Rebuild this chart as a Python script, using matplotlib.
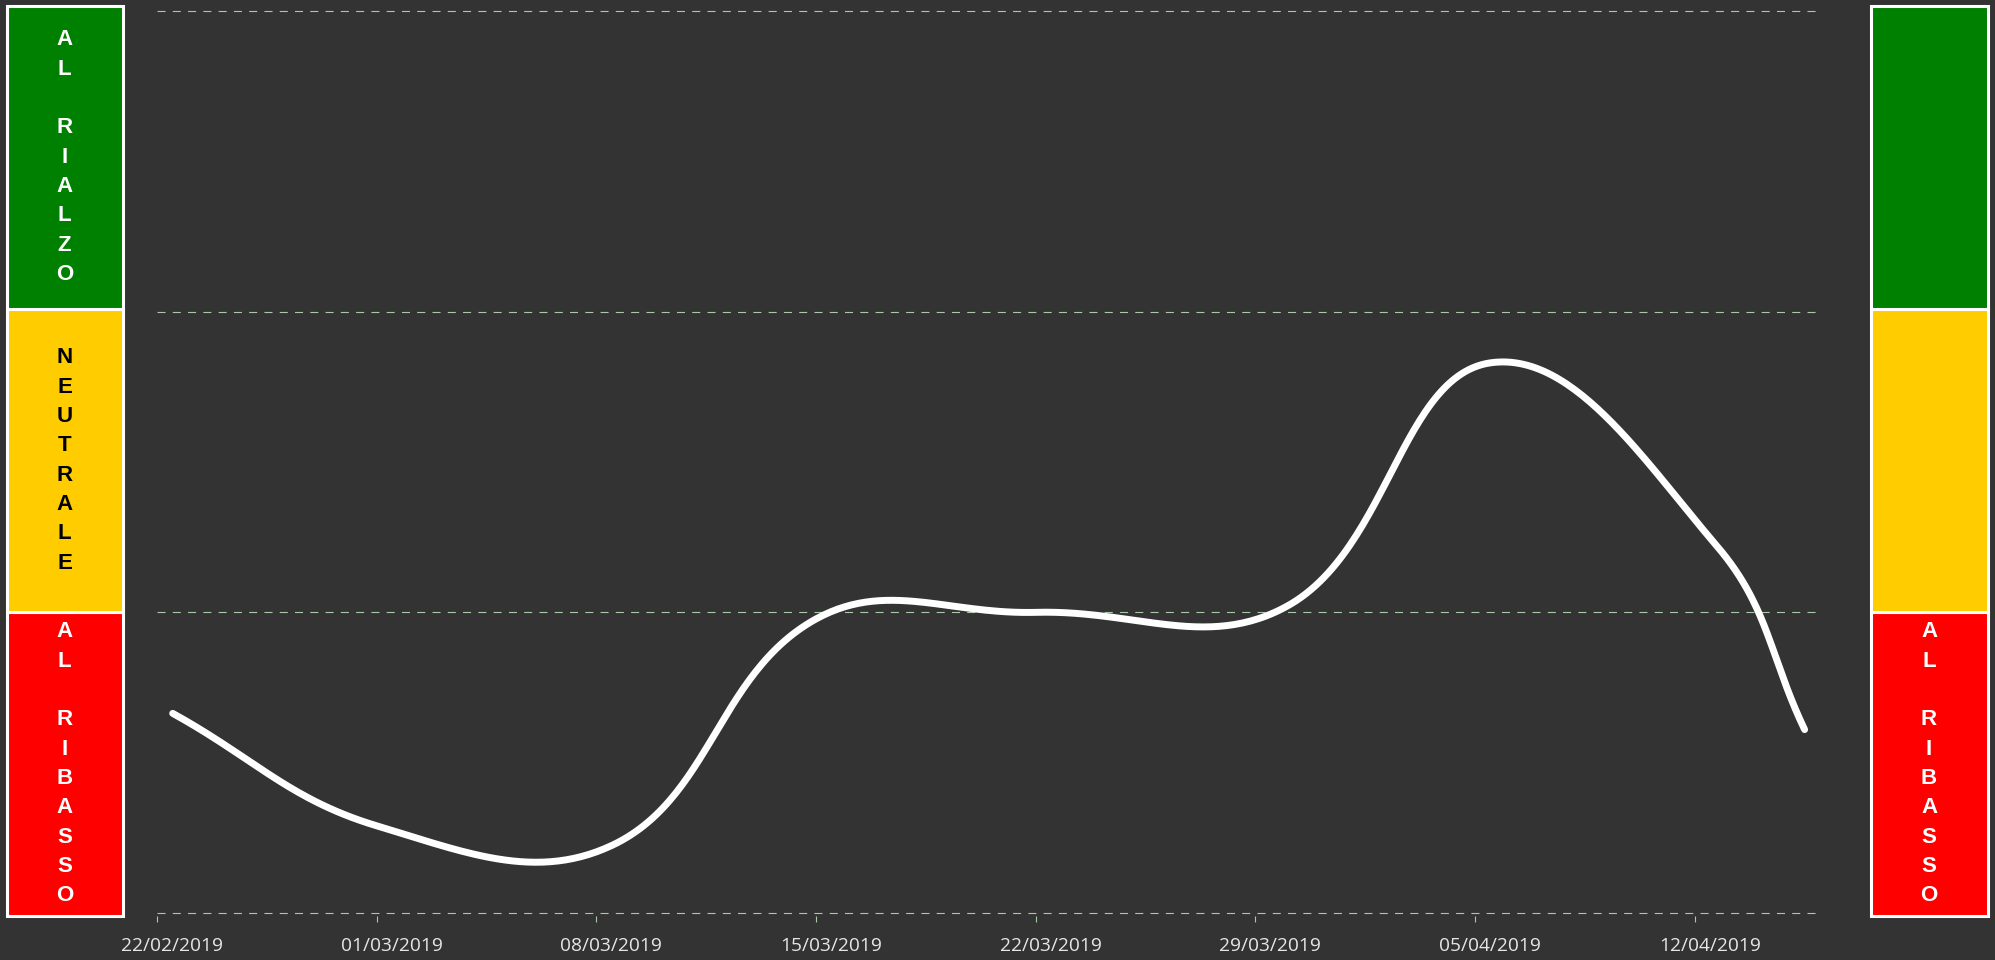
import numpy as np
import pandas as pd
import matplotlib
matplotlib.use('Agg')
import matplotlib.pyplot as plt
import matplotlib.dates as mdates
from matplotlib.transforms import ScaledTranslation

plt.rcParams['lines.scale_dashes'] = False

# data (value scale: 0-1 ribasso, 1-2 neutrale, 2-3 rialzo)
dates = ['2019-02-22 12:00', '2019-03-01 00:00', '2019-03-08 12:00', '2019-03-15 00:00',
         '2019-03-22 00:00', '2019-03-30 00:00', '2019-04-05 12:00', '2019-04-12 17:00',
         '2019-04-15 12:00']
values = [0.664, 0.29, 0.225, 0.978, 1.0, 1.02, 1.83, 1.22, 0.61]

zone_colors = ['#ff0000', '#ffcc00', '#008000']
zone_text_colors = ['white', 'black', 'white']
left_labels = ['AL RIBASSO', 'NEUTRALE', 'AL RIALZO']
right_labels = ['AL RIBASSO', '', '']

tick_dates = pd.date_range('2019-02-22', '2019-04-12', freq='7D')
x_start = pd.Timestamp('2019-02-22')
x_end = pd.Timestamp('2019-04-15 23:00')

bg = '#333333'
grid_color = '#a9c9a9'
W, H = 1995, 960


def spline_curve(ax, xs, ys, tension=0.4, steps=60):
    # chart.js style bezier spline, control points worked out in pixel space
    pts = ax.transData.transform(np.column_stack([xs, ys]))
    n = len(pts)
    prev_c = pts.copy()
    next_c = pts.copy()
    for i in range(n):
        p0 = pts[i - 1] if i > 0 else pts[i]
        p1 = pts[i]
        p2 = pts[i + 1] if i < n - 1 else pts[i]
        d01 = np.hypot(*(p1 - p0))
        d12 = np.hypot(*(p2 - p1))
        s01 = d01 / (d01 + d12)
        s12 = d12 / (d01 + d12)
        prev_c[i] = p1 - tension * s01 * (p2 - p0)
        next_c[i] = p1 + tension * s12 * (p2 - p0)

    t = np.linspace(0, 1, steps)[1:, None]
    out = [pts[:1]]
    for i in range(n - 1):
        seg = ((1 - t) ** 3 * pts[i] + 3 * (1 - t) ** 2 * t * next_c[i]
               + 3 * (1 - t) * t ** 2 * prev_c[i + 1] + t ** 3 * pts[i + 1])
        out.append(seg)
    out = np.vstack(out)
    data = ax.transData.inverted().transform(out)
    return data[:, 0], data[:, 1]


fig = plt.figure(figsize=(W / 100, H / 100), dpi=100, facecolor=bg)

# main chart
ax = fig.add_axes([157 / W, (H - 916) / H, (1819 - 157) / W, 908 / H])
ax.set_facecolor(bg)
for s in ax.spines.values():
    s.set_visible(False)

ax.set_xlim(mdates.date2num(x_start), mdates.date2num(x_end))
ax.set_ylim(-0.01, 3.01)

xnum = mdates.date2num(pd.to_datetime(dates))
cx, cy = spline_curve(ax, xnum, np.array(values))
ax.plot(cx, cy, color='white', linewidth=5.0, solid_capstyle='round', zorder=3)

ax.set_yticks([0, 1, 2, 3])
ax.tick_params(axis='y', length=0, labelleft=False)
ax.grid(axis='y', color=grid_color, linewidth=0.8, linestyle=(0, (5.8, 5.2)))

ax.set_xticks(mdates.date2num(tick_dates))
ax.xaxis.set_major_formatter(mdates.DateFormatter('%d/%m/%Y'))
ax.tick_params(axis='x', direction='out', length=4.5, width=0.8, color=grid_color,
               labelcolor='#e6e6e6', labelsize=13.8, pad=10.5)
shift = ScaledTranslation(15 / 100, 0, fig.dpi_scale_trans)
for tick in ax.xaxis.get_major_ticks():
    tick.label1.set_fontfamily(['Open Sans', 'DejaVu Sans'])
    tick.label1.set_transform(tick.label1.get_transform() + shift)


def side_panel(left_px, width_px, labels):
    pax = fig.add_axes([left_px / W, (H - 915.5) / H, width_px / W, 910 / H])
    pax.set_xlim(0, 1)
    pax.set_ylim(0, 3)
    pax.axis('off')
    pitch = 21.1  # points between letters
    for i, col in enumerate(zone_colors):
        pax.bar(0.5, 1, width=1, bottom=i, color=col, edgecolor='white',
                linewidth=2.2, clip_on=False)
        letters = [ch if ch != ' ' else '' for ch in labels[i]]
        n = len(letters)
        for k, ch in enumerate(letters):
            if not ch:
                continue
            off = ((n - 1) / 2 - k) * pitch
            pax.annotate(ch, xy=(0.5, i + 0.5), xytext=(0, off), textcoords='offset points',
                         ha='center', va='center', color=zone_text_colors[i],
                         fontsize=16, fontweight='bold', family=['Liberation Sans', 'DejaVu Sans'])
    return pax


side_panel(6.5, 116, left_labels)
side_panel(1870.5, 117, right_labels)

fig.savefig('out.png', dpi=100, facecolor=bg)
